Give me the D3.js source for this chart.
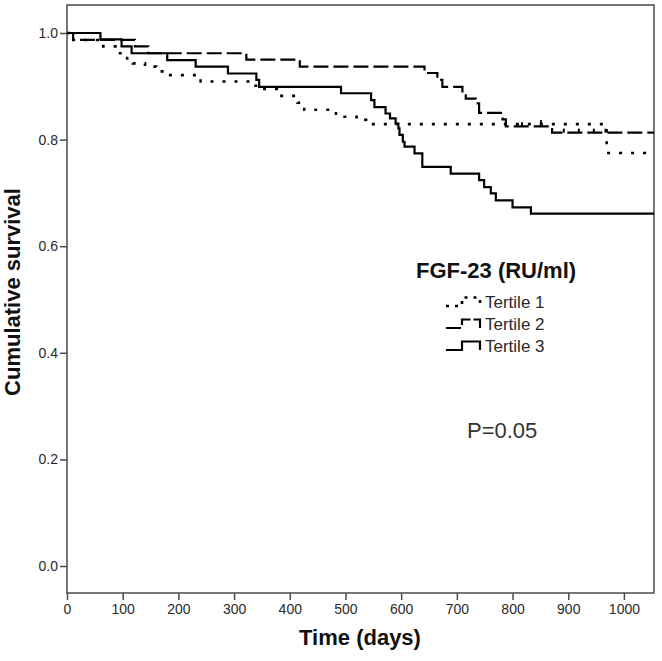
<!DOCTYPE html>
<html>
<head>
<meta charset="utf-8">
<script src="https://cdn.jsdelivr.net/npm/d3@7/dist/d3.min.js"></script>
<style>
  html, body { margin: 0; padding: 0; background: #fff; }
  svg { display: block; }
</style>
</head>
<body>
<svg id="chart" width="662" height="661"></svg>
<script>
// ---- Data ----
const xTicks = [0, 100, 200, 300, 400, 500, 600, 700, 800, 900, 1000];
const yTicks = [0.0, 0.2, 0.4, 0.6, 0.8, 1.0];
const seriesNames = ["Tertile 1", "Tertile 2", "Tertile 3"];
const maxDays = 1054;

// [day, cumulative survival] step points
const tertile1 = [[0,1.0],[8,0.987],[65,0.975],[92,0.962],[108,0.949],[118,0.943],[140,0.937],[160,0.928],[178,0.921],[240,0.909],[336,0.901],[346,0.895],[380,0.882],[414,0.869],[426,0.856],[483,0.843],[520,0.837],[537,0.829],[969,0.775]];
const tertile2 = [[0,1.0],[11,0.987],[122,0.975],[146,0.962],[322,0.950],[418,0.937],[642,0.925],[665,0.912],[674,0.899],[710,0.887],[716,0.877],[734,0.868],[740,0.850],[782,0.838],[788,0.825],[871,0.813]];
const tertile3 = [[0,1.0],[60,0.988],[98,0.975],[116,0.962],[180,0.949],[231,0.937],[289,0.924],[340,0.912],[345,0.899],[492,0.887],[546,0.874],[552,0.861],[572,0.849],[580,0.840],[590,0.830],[595,0.821],[597,0.809],[603,0.796],[606,0.787],[624,0.774],[638,0.749],[689,0.736],[740,0.724],[749,0.711],[761,0.699],[770,0.686],[800,0.673],[833,0.661]];
// censored observations (days)
const censor1 = [851];
const censor2 = [817, 851, 892, 919, 946, 967];

const pValueText = "P=0.05";

// ---- Layout ----
const svg = d3.select("#chart");
const mLeft = 67, mRight = 654, mTop = 5, mBottom = 593;

const x = d3.scaleLinear().domain([0, maxDays]).range([mLeft, mRight]);
const y = d3.scaleLinear().domain([0, 1]).range([566, 33]);

const axisColor = "#4a4a4a";
const textColor = "#2a2a2a";
const font = "Arial, 'Liberation Sans', Helvetica, sans-serif";

// Frame
svg.append("rect")
  .attr("x", mLeft).attr("y", mTop)
  .attr("width", mRight - mLeft).attr("height", mBottom - mTop)
  .attr("fill", "none").attr("stroke", axisColor).attr("stroke-width", 1.5);

// Y axis
const yAxis = d3.axisLeft(y).tickValues(yTicks).tickFormat(d3.format(".1f")).tickSize(7).tickPadding(2);
const gy = svg.append("g").attr("transform", `translate(${mLeft},0)`).call(yAxis);
gy.select(".domain").remove();
gy.selectAll("line").attr("stroke", axisColor).attr("stroke-width", 1.5);
gy.selectAll("text").attr("fill", textColor).style("font-family", font).style("font-size", "14px");

// X axis
const xAxis = d3.axisBottom(x).tickValues(xTicks).tickFormat(d3.format("d")).tickSize(7).tickPadding(4);
const gx = svg.append("g").attr("transform", `translate(0,${mBottom})`).call(xAxis);
gx.select(".domain").remove();
gx.selectAll("line").attr("stroke", axisColor).attr("stroke-width", 1.5);
gx.selectAll("text").attr("fill", textColor).style("font-family", font).style("font-size", "14px");

// Axis titles
svg.append("text")
  .attr("x", 360).attr("y", 645)
  .attr("text-anchor", "middle")
  .attr("fill", "#111")
  .style("font-family", font).style("font-size", "22px").style("font-weight", "bold")
  .text("Time (days)");

svg.append("text")
  .attr("transform", "translate(20,292) rotate(-90)")
  .attr("text-anchor", "middle")
  .attr("fill", "#111")
  .style("font-family", font).style("font-size", "22px").style("font-weight", "bold")
  .text("Cumulative survival");

// Curves
const line = d3.line().x(d => x(d[0])).y(d => y(d[1])).curve(d3.curveStepAfter);
const styles = [
  { data: tertile1, dash: "3,9", width: 2.6 },
  { data: tertile2, dash: "15,5", width: 2.2 },
  { data: tertile3, dash: null, width: 2.2 }
];
const plot = svg.append("g");
styles.forEach(s => {
  const pts = s.data.concat([[maxDays, s.data[s.data.length - 1][1]]]);
  const p = plot.append("path")
    .attr("d", line(pts))
    .attr("fill", "none")
    .attr("stroke", "#000")
    .attr("stroke-width", s.width);
  if (s.dash) p.attr("stroke-dasharray", s.dash);
});

// censor ticks
function survAt(data, t) {
  let v = data[0][1];
  for (const d of data) { if (d[0] <= t) v = d[1]; }
  return v;
}
function censorTicks(days, data) {
  plot.append("g").selectAll("line").data(days).enter().append("line")
    .attr("x1", d => x(d)).attr("x2", d => x(d))
    .attr("y1", d => y(survAt(data, d)) - 4)
    .attr("y2", d => y(survAt(data, d)))
    .attr("stroke", "#000").attr("stroke-width", 2);
}
censorTicks(censor1, tertile1);
censorTicks(censor2, tertile2);

// Legend
const lg = svg.append("g");
lg.append("text")
  .attr("x", 416).attr("y", 278)
  .attr("fill", "#111")
  .style("font-family", font).style("font-size", "22px").style("font-weight", "bold")
  .text("FGF-23 (RU/ml)");

const legendY = [308, 330, 352];
const symLine = d3.line();
seriesNames.forEach((name, i) => {
  const by = legendY[i] - 2;
  const pts = [[446, by], [462, by], [462, by - 8.5], [480, by - 8.5], [480, by]];
  const p = lg.append("path")
    .attr("d", symLine(pts))
    .attr("fill", "none").attr("stroke", "#000")
    .attr("stroke-width", styles[i].width);
  if (i === 0) p.attr("stroke-dasharray", "3,6");
  if (i === 1) p.attr("stroke-dasharray", "15,4,14,3");
  lg.append("text")
    .attr("x", 485).attr("y", legendY[i])
    .attr("fill", textColor)
    .style("font-family", font).style("font-size", "17px")
    .text(name);
});

// P value
svg.append("text")
  .attr("x", 467).attr("y", 438)
  .attr("fill", "#333")
  .style("font-family", font).style("font-size", "22px")
  .text(pValueText);
</script>
</body>
</html>
